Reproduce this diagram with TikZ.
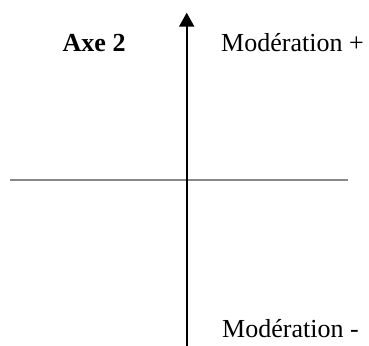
\documentclass[tikz,border=0pt]{standalone}
\usepackage{fontspec}
\setmainfont{Liberation Serif}
\usetikzlibrary{arrows.meta}
\begin{document}
\begin{tikzpicture}[x=1pt,y=-1pt,
  lbl/.style={anchor=base west, inner sep=0pt, font=\fontsize{26}{30}\selectfont},
  axisv/.style={line width=2pt, black, -{Triangle[width=15pt,length=14pt]}},
  axish/.style={line width=2pt, color={rgb,255:red,136;green,136;blue,136}}]
\useasboundingbox (0,0) rectangle (369,345);
\coordinate (vb) at (186.7,346);
\coordinate (vt) at (186.7,12.7);
\coordinate (hl) at (10,180);
\coordinate (hr) at (348,180);
\draw[axish] (hl) -- (hr);
\draw[axisv] (vb) -- (vt);
\node[lbl, font=\fontsize{26}{30}\selectfont\bfseries] (axe) at (62.5,52) {Axe 2};
\node[lbl] (modp) at (221,52) {Modération +};
\node[lbl] (modm) at (222,337) {Modération -};
\end{tikzpicture}
\end{document}
